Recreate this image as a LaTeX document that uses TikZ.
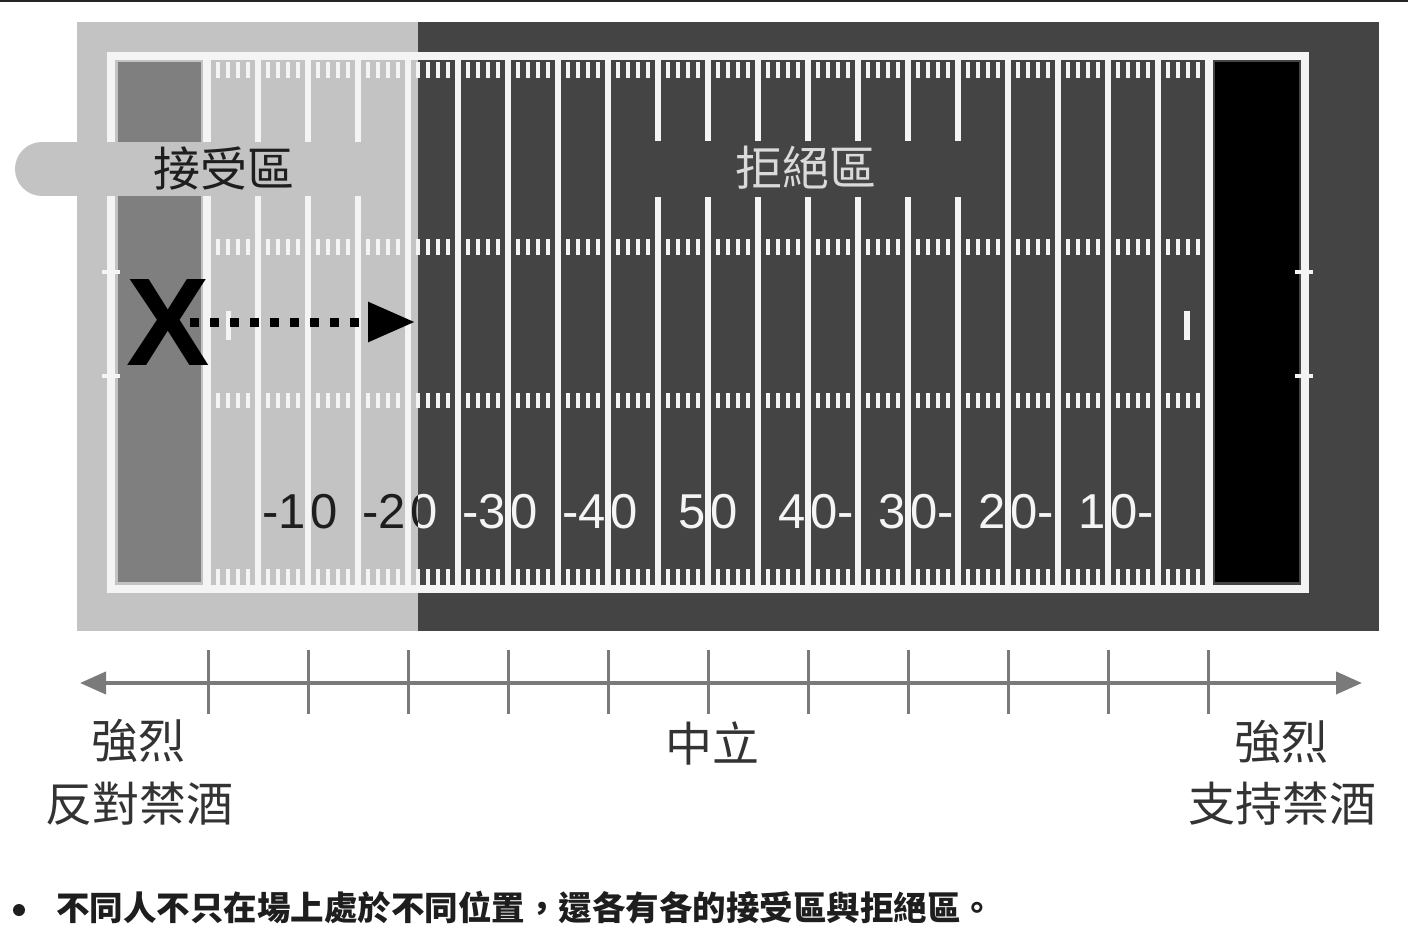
\documentclass[tikz,border=0pt]{standalone}
\usepackage{fontspec}
\setmainfont{Liberation Sans}
\newfontfamily\cjk{Noto Sans CJK TC}
\usetikzlibrary{arrows.meta}
\definecolor{fieldlight}{HTML}{C3C3C3}
\definecolor{fielddark}{HTML}{444444}
\definecolor{ezgray}{HTML}{7F7F7F}
\definecolor{linewhite}{HTML}{F4F4F4}
\definecolor{axisgray}{HTML}{7A7A7A}
\definecolor{labelgray}{HTML}{333333}
\definecolor{darktext}{HTML}{1E1E1E}
\definecolor{lighttext}{HTML}{DADADA}
\newcommand\fieldnums[2]{%
  \foreach \lx/\pa/\pb in {308/-1/0,408/-2/0,508/-3/0,608/-4/0,708/5/0,808/4/0-,908/3/0-,1008/2/0-,1108/1/0-}{%
    \node[num,text=#1,anchor=base east] (#2a\lx) at (\lx-2,528) {\pa};
    \node[num,text=#1,anchor=base west] (#2b\lx) at (\lx+2,528) {\pb};
  }%
}
\begin{document}
\begin{tikzpicture}[x=1pt,y=-1pt,
  yardline/.style={linewhite,line width=6pt},
  goalline/.style={linewhite,line width=8pt},
  hashmark/.style={linewhite,line width=4.5pt},
  postmark/.style={linewhite,line width=4pt},
  num/.style={font=\fontsize{49}{49}\selectfont,inner sep=0pt},
  zonelabel/.style={font=\cjk\fontsize{47}{50}\selectfont,inner sep=0pt},
  scalelabel/.style={font=\cjk\fontsize{47}{50}\selectfont,inner sep=0pt,text=labelgray},
  axisline/.style={axisgray,line width=4pt},
  axistick/.style={axisgray,line width=3pt},
  axtip/.tip={Triangle[length=26pt,width=22pt]}
]
\useasboundingbox (0,0) rectangle (1408,936);
\fill[white] (0,0) rectangle (1408,936);
\fill[black!85] (0,0) rectangle (1408,2);
% field background
\fill[fieldlight] (77,22) rectangle (418,631);
\fill[fielddark] (418,22) rectangle (1379,631);
% end zones
\fill[ezgray] (118,62) rectangle (201,582);
\fill[black] (1215,62) rectangle (1299,582);
% boundary
\draw[linewhite,line width=8pt] (111,56) rectangle (1305,589);
% yard lines
\draw[goalline] (207,58) -- (207,587);
\draw[goalline] (1209,58) -- (1209,587);
\foreach \k in {1,...,19} \draw[yardline] ({208+50*\k},58) -- ({208+50*\k},587);
% hash marks
\foreach \i in {1,...,99}{%
  \pgfmathtruncatemacro\rr{mod(\i,5)}%
  \ifnum\rr>0
    \foreach \ya/\yb in {62/78,239/255,393/408,569/585}
      \draw[hashmark] ({208+10*\i},\ya) -- ({208+10*\i},\yb);
  \fi
}
% goal post marks
\foreach \yy in {272,376}{%
  \draw[postmark] (102,\yy) -- (120,\yy);
  \draw[postmark] (1295,\yy) -- (1313,\yy);
}
% two-yard marks
\draw[linewhite,line width=5pt] (228,311) -- (228,340);
\draw[linewhite,line width=6pt] (1187,311) -- (1187,340);
% label bands
\fill[fieldlight] (42,169) circle (27);
\fill[fieldlight] (42,142) rectangle (404,196);
\fill[fielddark] (650,141) rectangle (966,197);
\node[zonelabel,text=darktext] (accept) at (224,168) {接受區};
\node[zonelabel,text=lighttext] (reject) at (806,168) {拒絕區};
% numbers
\begin{scope}
  \clip (77,22) rectangle (418,631);
  \fieldnums{darktext}{L}
\end{scope}
\begin{scope}
  \clip (418,22) rectangle (1379,631);
  \fieldnums{linewhite}{R}
\end{scope}
% X and dotted arrow
\node[font=\fontsize{125}{125}\selectfont\bfseries,inner sep=0pt] (X) at (168,322) {X};
\coordinate (arrS) at (190,322);
\coordinate (arrE) at (415,322);
\draw[black,line width=9pt,dash pattern=on 9pt off 11pt,-{Triangle[length=47pt,width=38pt]}] (arrS) -- (arrE);
% scale axis
\coordinate (axL) at (80,683);
\coordinate (axR) at (1362,683);
\draw[axisline,axtip-axtip] (axL) -- (axR);
\foreach \k in {0,...,10} \draw[axistick] ({208+100*\k},650) -- ({208+100*\k},714);
\node[scalelabel] (l1) at (138,741) {強烈};
\node[scalelabel] (l2) at (139,804) {反對禁酒};
\node[scalelabel] (mid) at (712,743) {中立};
\node[scalelabel] (r1) at (1281,742) {強烈};
\node[scalelabel] (r2) at (1282,804) {支持禁酒};
% bullet line
\node[circle,fill=darktext,minimum size=12pt,inner sep=0pt] (bul) at (19,910) {};
\node[font=\cjk\fontsize{33.5}{36}\selectfont\bfseries,text=darktext,inner sep=0pt,anchor=west] (note) at (56,908) {不同人不只在場上處於不同位置，還各有各的接受區與拒絕區。};
\end{tikzpicture}
\end{document}
